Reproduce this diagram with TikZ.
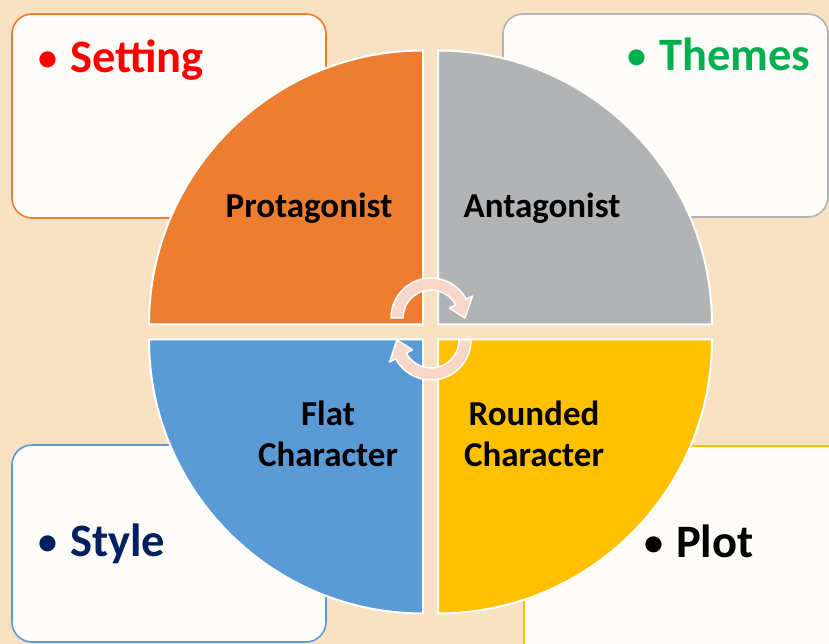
\documentclass[tikz,border=0pt]{standalone}
\usepackage{fontspec}
\newfontfamily\carlito{Carlito}
\definecolor{bgpeach}{RGB}{249,226,196}
\definecolor{boxfill}{RGB}{254,252,248}
\definecolor{qorange}{RGB}{237,125,49}
\definecolor{qgray}{RGB}{178,179,181}
\definecolor{qblue}{RGB}{91,155,213}
\definecolor{qyellow}{RGB}{255,192,0}
\definecolor{arrowpink}{RGB}{248,214,200}
\definecolor{tred}{RGB}{255,0,0}
\definecolor{tgreen}{RGB}{0,176,80}
\definecolor{tnavy}{RGB}{0,32,96}
\newcommand{\bulletmark}{\makebox[32pt][l]{\raisebox{2pt}{\fontsize{38}{40}\selectfont •}}}
\tikzset{
  cornerbox/.style={fill=boxfill, line width=1.6pt, rounded corners=20pt},
  sector/.style={draw=white, line width=2pt},
  boxlabel/.style={anchor=base west, inner sep=0pt, font=\carlito\bfseries\fontsize{46.5}{50}\selectfont},
  qlabel/.style={anchor=base, inner sep=0pt, align=center, font=\carlito\bfseries\fontsize{35}{41}\selectfont},
  cyclearrow/.style={fill=arrowpink, draw=white, line width=1.5pt, line join=round}
}
\begin{document}
\begin{tikzpicture}[x=1pt,y=1pt]
\useasboundingbox (0,0) rectangle (829,644);
\clip (0,0) rectangle (829,644);
\fill[bgpeach] (0,0) rectangle (829,644);
% corner boxes
\draw[cornerbox, draw=qorange] (12,426) rectangle (326,630);
\draw[cornerbox, draw=qgray] (503,427) rectangle (828,630);
\draw[cornerbox, draw=qblue] (12,2) rectangle (326,199);
\draw[cornerbox, draw=qyellow] (524,-20) rectangle (860,198);
% box labels
\node[boxlabel, text=tred] (setting) at (38,571) {\bulletmark Setting};
\node[boxlabel, text=tgreen] (themes) at (627,573) {\bulletmark Themes};
\node[boxlabel, text=tnavy] (style) at (38,87) {\bulletmark Style};
\node[boxlabel, text=black] (plot) at (644,86) {\bulletmark Plot};
% quadrants
\filldraw[sector, fill=qorange] (423,319.5) -- ++(0,274) arc[start angle=90, end angle=180, radius=274pt] -- cycle;
\filldraw[sector, fill=qgray] (438,319.5) -- ++(274,0) arc[start angle=0, end angle=90, radius=274pt] -- cycle;
\filldraw[sector, fill=qblue] (423,304.5) -- ++(-274,0) arc[start angle=180, end angle=270, radius=274pt] -- cycle;
\filldraw[sector, fill=qyellow] (438,304.5) -- ++(0,-274) arc[start angle=270, end angle=360, radius=274pt] -- cycle;
% quadrant labels
\node[qlabel] (protagonist) at (309,426) {Protagonist};
\node[qlabel] (antagonist) at (542,426) {Antagonist};
\node[qlabel] (flat) at (328,177) {Flat\\Character};
\node[qlabel] (rounded) at (534,177) {Rounded\\Character};
% cycle arrows
\begin{scope}[shift={(431,326)}]
\filldraw[cyclearrow] (180:40pt) arc[start angle=180, end angle=28, radius=40pt]
  -- (28:47pt) -- (0:34pt) -- (28:21pt) -- (28:28pt)
  arc[start angle=28, end angle=180, radius=28pt] -- cycle;
\end{scope}
\begin{scope}[shift={(431,304)}, rotate=180]
\filldraw[cyclearrow] (180:40pt) arc[start angle=180, end angle=28, radius=40pt]
  -- (28:47pt) -- (0:34pt) -- (28:21pt) -- (28:28pt)
  arc[start angle=28, end angle=180, radius=28pt] -- cycle;
\end{scope}
\end{tikzpicture}
\end{document}
